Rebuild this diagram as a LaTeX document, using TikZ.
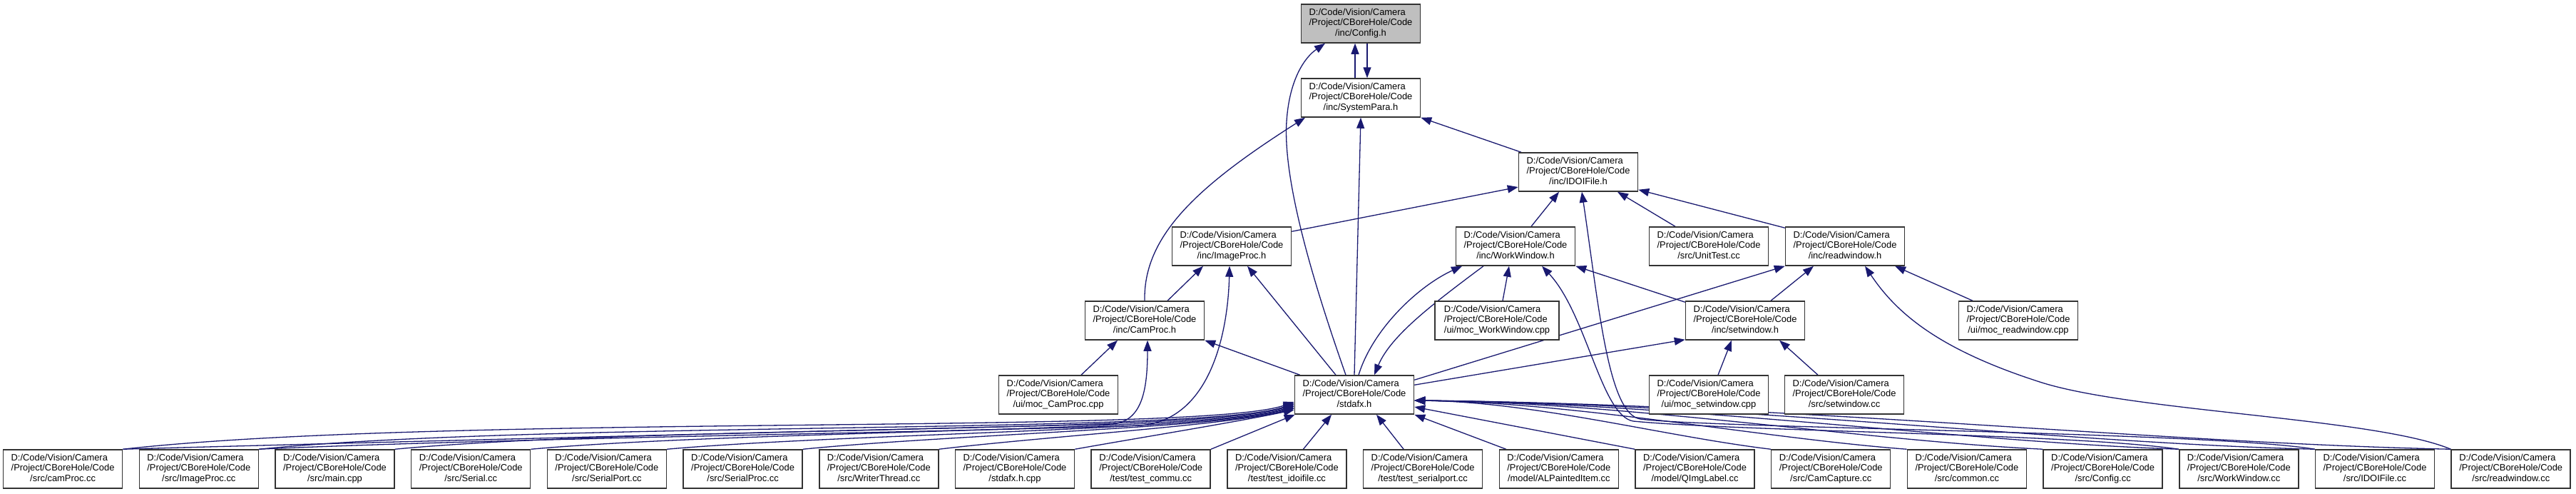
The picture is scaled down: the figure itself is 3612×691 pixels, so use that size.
\documentclass[tikz,border=0pt]{standalone}
\usepackage{fontspec}
\setmainfont{Liberation Sans}
\usetikzlibrary{arrows.meta}
\pgfdeclarelayer{bg}
\pgfsetlayers{bg,main}
\definecolor{edgeblue}{HTML}{191970}
\definecolor{cfgfill}{HTML}{BFBFBF}
\newcommand\fpath[1]{\fontsize{12.9}{14.3}\selectfont\begin{tabular}{@{}l@{}}D:/Code/Vision/Camera\\/Project/CBoreHole/Code\\\multicolumn{1}{@{}c@{}}{#1}\end{tabular}}
\begin{document}
\begin{tikzpicture}[x=1pt,y=-1pt,
  file/.style={draw=black!80,line width=1.5pt,fill=white,minimum width=167pt,minimum height=54pt,inner sep=0pt},
  dep/.style={draw=edgeblue,line width=1.3pt,-{Triangle[length=15pt,width=11pt]}}]
\useasboundingbox (0,0) rectangle (3612,691);

% upper nodes
\node[file,fill=cfgfill] (cfg) at (1908,33) {\fpath{/inc/Config.h}};
\node[file] (sys)   at (1908,137) {\fpath{/inc/SystemPara.h}};
\node[file] (idoi)  at (2213,241) {\fpath{/inc/IDOIFile.h}};
\node[file] (imgh)  at (1727,345) {\fpath{/inc/ImageProc.h}};
\node[file] (wwh)   at (2125,345) {\fpath{/inc/WorkWindow.h}};
\node[file] (unit)  at (2396,345) {\fpath{/src/UnitTest.cc}};
\node[file] (rwh)   at (2587,345) {\fpath{/inc/readwindow.h}};
\node[file] (camh)  at (1605,449) {\fpath{/inc/CamProc.h}};
\node[file,minimum width=174pt] (mocww) at (2099,449) {\fpath{/ui/moc\_WorkWindow.cpp}};
\node[file] (swh)   at (2447,449) {\fpath{/inc/setwindow.h}};
\node[file] (mocrw) at (2830,449) {\fpath{/ui/moc\_readwindow.cpp}};
\node[file] (moccp) at (1484,553) {\fpath{/ui/moc\_CamProc.cpp}};
\node[file] (std)   at (1899,553) {\fpath{/stdafx.h}};
\node[file] (mocsw) at (2396,553) {\fpath{/ui/moc\_setwindow.cpp}};
\node[file] (swcc)  at (2586,553) {\fpath{/src/setwindow.cc}};

% bottom row
\foreach \t [count=\i from 0] in {/src/camProc.cc,/src/ImageProc.cc,/src/main.cpp,/src/Serial.cc,/src/SerialPort.cc,/src/SerialProc.cc,/src/WriterThread.cc,/stdafx.h.cpp,/test/test\_commu.cc,/test/test\_idoifile.cc,/test/test\_serialport.cc,/model/ALPaintedItem.cc,/model/QImgLabel.cc,/src/CamCapture.cc,/src/common.cc,/src/Config.cc,/src/WorkWindow.cc,/src/IDOIFile.cc,/src/readwindow.cc}
  \node[file] (b\i) at ({88.1+190.7*\i},657) {\fpath{\t}};

\begin{pgfonlayer}{bg}
\fill[white] (0,0) rectangle (3612,691);
% Config / SystemPara
\draw[dep] ([xshift=-8]sys.north) -- ([xshift=-8]cfg.south);
\draw[dep] ([xshift=9]cfg.south) -- ([xshift=9]sys.north);
\draw[dep] ([xshift=-12]std.north) .. controls (1850,420) and (1798,260) .. (1804,170) .. controls (1808,110) and (1830,80) .. ([xshift=-50]cfg.south);
\draw[dep] (std.north) -- (sys.south);
\draw[dep] (camh.north) .. controls (1603,330) and (1680,260) .. ([xshift=-78]sys.south);
\draw[dep] ([xshift=-80]idoi.north) -- (sys.south east);

% IDOIFile.h
\draw[dep] ([yshift=-7]imgh.north east) -- ([yshift=-21]idoi.west);
\draw[dep] ([xshift=22]wwh.north) -- ([xshift=-27]idoi.south);
\draw[dep] ([xshift=-47]unit.north) -- ([xshift=55]idoi.south);
\draw[dep] ([yshift=-2]rwh.north west) -- ([yshift=3]idoi.south east);
\draw[dep] (b17.north west) .. controls (3100,605) and (2400,600) .. (2300,587) .. controls (2255,580) and (2242,430) .. ([xshift=5]idoi.south);

% ImageProc.h / CamProc.h
\draw[dep] ([xshift=32]camh.north) -- ([xshift=-40]imgh.south);
\draw[dep] (b1.north east) .. controls (700,614) and (1300,606) .. (1600,596) .. controls (1700,587) and (1722,460) .. ([xshift=-3]imgh.south);
\draw[dep] ([xshift=-26]std.north) -- ([xshift=22]imgh.south);
\draw[dep] (b0.north east) .. controls (500,620) and (1150,604) .. (1560,594) .. controls (1600,590) and (1609,550) .. ([xshift=4]camh.south);
\draw[dep] ([xshift=32]moccp.north) -- ([xshift=-38]camh.south);
\draw[dep] ([xshift=8]std.north west) -- (camh.south east);

% WorkWindow.h
\draw[dep] ([xshift=6]std.north) .. controls (1925,460) and (1990,400) .. ([xshift=-75]wwh.south);
\draw[dep] ([xshift=-45]wwh.south) .. controls (2010,425) and (1950,470) .. ([xshift=28]std.north);
\draw[dep] ([xshift=8]mocww.north) -- ([xshift=-9]wwh.south);
\draw[dep] ([yshift=-2]swh.north west) -- (wwh.south east);
\draw[dep] (b16.north west) .. controls (2900,607) and (2450,605) .. (2290,590) .. controls (2245,582) and (2225,440) .. ([xshift=37]wwh.south);

% readwindow.h / setwindow.h
\draw[dep] ([yshift=-7]std.north east) -- (rwh.south west);
\draw[dep] ([yshift=-14]std.north east) -- ([yshift=1]swh.south west);
\draw[dep] ([xshift=36]swh.north) -- ([xshift=-44]rwh.south);
\draw[dep] ([xshift=-64]mocrw.north) -- ([xshift=70]rwh.south);
\draw[dep] (b18.north west) .. controls (3330,585) and (2990,577) .. (2860,535) .. controls (2720,490) and (2660,440) .. ([xshift=28]rwh.south);
\draw[dep] ([xshift=13]mocsw.north) -- ([xshift=-19]swh.south);
\draw[dep] ([xshift=-37]swcc.north) -- ([xshift=48]swh.south);

% stdafx.h, left bundle
\draw[dep] (b0.north east) .. controls +(450,-50) and (1680,610) .. ([yshift=-10]std.west);
\draw[dep] (b1.north east) .. controls +(400,-40) and (1690,609) .. ([yshift=-12]std.west);
\draw[dep] (b2.north east) .. controls +(350,-33) and (1700,607) .. ([yshift=-13]std.west);
\draw[dep] (b3.north east) .. controls +(300,-27) and (1705,605) .. ([yshift=-15]std.west);
\draw[dep] (b4.north east) .. controls +(250,-22) and (1710,603) .. ([yshift=-16]std.west);
\draw[dep] (b5.north east) .. controls +(200,-20) and (1720,599) .. ([yshift=-18]std.west);
\draw[dep] (b6.north east) .. controls +(150,-18) and (1730,595) .. ([yshift=-19]std.west);
\draw[dep] (b7.north east) .. controls +(90,-16) and (1740,590) .. ([yshift=-21]std.west);
% stdafx.h, below
\draw[dep] (b8.north east) -- ([xshift=1]std.south west);
\draw[dep] ([xshift=23]b9.north) -- ([xshift=-32]std.south);
\draw[dep] ([xshift=-27]b10.north) -- ([xshift=31]std.south);
\draw[dep] ([xshift=-74]b11.north) -- (std.south east);
\draw[dep] (b12.north west) -- ([yshift=-17]std.east);
% stdafx.h, right bundle
\draw[dep] (b13.north west) .. controls +(-150,-18) and +(170,2) .. ([yshift=-8]std.east);
\draw[dep] (b14.north west) .. controls +(-200,-15) and +(230,3) .. ([yshift=-8]std.east);
\draw[dep] (b15.north west) .. controls +(-250,-12) and +(300,3) .. ([yshift=-8]std.east);
\draw[dep] (b16.north west) .. controls +(-300,-10) and +(380,4) .. ([yshift=-8]std.east);
\draw[dep] (b17.north west) .. controls +(-350,-8) and +(450,4) .. ([yshift=-8]std.east);
\draw[dep] (b18.north west) .. controls +(-400,-8) and +(520,5) .. ([yshift=-8]std.east);
\end{pgfonlayer}
\end{tikzpicture}
\end{document}
